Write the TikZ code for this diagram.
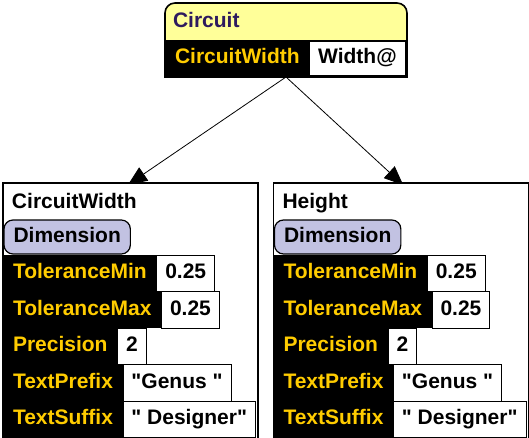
\documentclass[tikz,border=0pt]{standalone}
\usepackage{fontspec}
\setmainfont{Liberation Sans}
\usetikzlibrary{positioning,arrows.meta,backgrounds}

\definecolor{hdryellow}{RGB}{255,255,153}
\definecolor{hdrpurple}{RGB}{46,26,94}
\definecolor{slotgold}{RGB}{255,204,0}
\definecolor{typelilac}{RGB}{194,194,226}

\begin{document}
\begin{tikzpicture}[x=1pt, y=-1pt,
      every node/.style={font=\fontsize{21}{24}\selectfont\bfseries,
                         inner sep=0pt, outer sep=0pt},
      frame/.style={draw, line width=1.6pt},
      panel/.style={frame, fill=white, minimum width=255pt, minimum height=262pt},
      slot/.style={fill=black, text=slotgold, minimum height=36.5pt,
                   inner xsep=10pt, text height=15pt, text depth=4pt},
      val/.style={draw, fill=white, line width=0.8pt, minimum height=36.5pt,
                  inner xsep=8.5pt, text height=15pt, text depth=4pt},
      type/.style={draw, fill=typelilac, rounded corners=9pt, line width=1.2pt,
                   minimum height=34pt, inner xsep=9.5pt,
                   text height=15pt, text depth=4pt},
      arrow/.style={-{Triangle[length=19pt, width=16pt]}, line width=0.8pt,
                    shorten >=-3pt},
  ]
    \useasboundingbox (0,0) rectangle (529,438);
    \clip (0,0) rectangle (529,438);

    % top object
    \node[frame, fill=hdryellow, rounded corners=10pt, anchor=north west,
          minimum width=242pt, minimum height=74pt] (ckt) at (165,3) {};
    \node[fill=black, anchor=south, minimum width=243.6pt, minimum height=37.8pt]
      (cktbar) at ([yshift=-0.8pt]ckt.south) {};
    \node[text=hdrpurple, anchor=base west] (cktname) at (173,28) {Circuit};
    \node[slot, anchor=north west, minimum height=36pt] (cktslot) at (ckt.west) {CircuitWidth};
    \node[val, right=0pt of cktslot, minimum height=34pt] (cktval) {Width@};

    % the two dimension objects
    \foreach \px/\pn/\ttl in {3/cw/CircuitWidth, 273.5/ht/Height} {
      \node[panel, anchor=north west] (\pn) at (\px,183) {};
      \node[anchor=base west] (\pn-title) at ([xshift=9pt, yshift=-25pt]\pn.north west) {\ttl};
      \node[type, anchor=north west] (\pn-type) at ([xshift=1pt, yshift=-37pt]\pn.north west) {Dimension};

      \node[slot, anchor=north west] (\pn-tmin) at ([yshift=-72pt]\pn.north west) {ToleranceMin};
      \node[slot, anchor=north west] (\pn-tmax) at (\pn-tmin.south west) {ToleranceMax};
      \node[slot, anchor=north west] (\pn-prec) at (\pn-tmax.south west) {Precision};
      \node[slot, anchor=north west] (\pn-pfx) at (\pn-prec.south west) {TextPrefix};
      \node[slot, anchor=north west] (\pn-sfx) at (\pn-pfx.south west) {TextSuffix};

      \node[val, right=0pt of \pn-tmin] (\pn-tmin-v) {0.25};
      \node[val, right=0pt of \pn-tmax] (\pn-tmax-v) {0.25};
      \node[val, right=0pt of \pn-prec] (\pn-prec-v) {2};
      \node[val, right=0pt of \pn-pfx] (\pn-pfx-v) {\textquotedbl Genus \textquotedbl};
      \node[val, right=0pt of \pn-sfx] (\pn-sfx-v) {\textquotedbl\ Designer\textquotedbl};
    }

    \begin{scope}[on background layer]
      \draw[arrow] (ckt.south) -- (cw.north);
      \draw[arrow] (ckt.south) -- (ht.north);
    \end{scope}
  \end{tikzpicture}
\end{document}
